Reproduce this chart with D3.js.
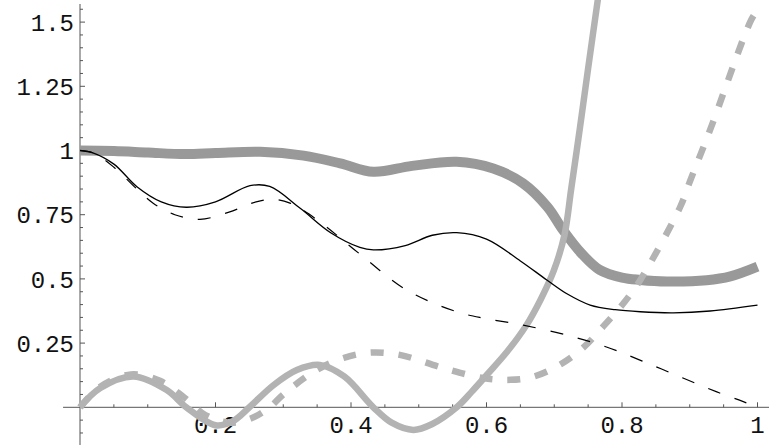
<!DOCTYPE html>
<html>
<head>
<meta charset="utf-8">
<script src="https://cdn.jsdelivr.net/npm/d3@7/dist/d3.min.js"></script>
<style>
  html, body { margin: 0; padding: 0; background: #fff; }
  svg { display: block; }
</style>
</head>
<body>
<svg id="chart" width="769" height="445"></svg>
<script>
// ---- data ----
const xTickLabels = ["0.2", "0.4", "0.6", "0.8", "1"];
const xTickValues = [0.2, 0.4, 0.6, 0.8, 1];
const yTickLabels = ["0.25", "0.5", "0.75", "1", "1.25", "1.5"];
const yTickValues = [0.25, 0.5, 0.75, 1, 1.25, 1.5];

const thickDarkX = [0, 0.05, 0.1, 0.155, 0.2, 0.266, 0.33, 0.384, 0.433, 0.49, 0.556, 0.61, 0.654, 0.69, 0.713, 0.74, 0.767, 0.8, 0.827, 0.866, 0.925, 0.96, 1.0];
const thickDarkY = [1.0, 0.998, 0.992, 0.986, 0.99, 0.995, 0.98, 0.95, 0.917, 0.94, 0.956, 0.93, 0.872, 0.78, 0.69, 0.6, 0.535, 0.505, 0.496, 0.49, 0.495, 0.51, 0.548];

const blackSolidX = [0, 0.019, 0.05, 0.084, 0.12, 0.157, 0.2, 0.251, 0.28, 0.325, 0.37, 0.413, 0.433, 0.48, 0.52, 0.556, 0.6, 0.65, 0.689, 0.72, 0.753, 0.79, 0.827, 0.876, 0.93, 1.0];
const blackSolidY = [1.0, 0.991, 0.947, 0.859, 0.8, 0.779, 0.8, 0.863, 0.86, 0.775, 0.68, 0.623, 0.613, 0.63, 0.67, 0.68, 0.655, 0.57, 0.496, 0.44, 0.398, 0.38, 0.372, 0.368, 0.375, 0.398];

const blackDashX = [0, 0.02, 0.05, 0.084, 0.108, 0.14, 0.177, 0.22, 0.26, 0.285, 0.31, 0.35, 0.413, 0.482, 0.556, 0.6, 0.654, 0.72, 0.777, 0.83, 0.89, 0.94, 0.979, 1.0];
const blackDashY = [1.0, 0.99, 0.935, 0.85, 0.795, 0.75, 0.732, 0.76, 0.8, 0.81, 0.795, 0.73, 0.597, 0.457, 0.372, 0.345, 0.32, 0.28, 0.235, 0.18, 0.114, 0.06, 0.022, 0.0];

const lightSolidX = [0, 0.03, 0.079, 0.128, 0.157, 0.2, 0.225, 0.25, 0.285, 0.32, 0.354, 0.39, 0.433, 0.46, 0.492, 0.52, 0.556, 0.578, 0.6, 0.63, 0.659, 0.68, 0.699, 0.715, 0.725, 0.738, 0.75, 0.765, 0.772];
const lightSolidY = [0, 0.075, 0.12, 0.067, 0.0, -0.07, -0.055, 0.0, 0.085, 0.145, 0.165, 0.12, 0.0, -0.06, -0.088, -0.065, 0.0, 0.06, 0.125, 0.215, 0.32, 0.42, 0.53, 0.67, 0.85, 1.09, 1.32, 1.6, 1.73];

const lightDashX = [0, 0.03, 0.075, 0.118, 0.153, 0.185, 0.22, 0.251, 0.28, 0.3, 0.349, 0.389, 0.428, 0.472, 0.536, 0.595, 0.635, 0.669, 0.708, 0.743, 0.772, 0.804, 0.827, 0.886, 0.9, 0.93, 0.991, 1.0];
const lightDashY = [0, 0.08, 0.128, 0.103, 0.04, -0.03, -0.06, -0.045, 0.0, 0.05, 0.145, 0.192, 0.213, 0.204, 0.153, 0.114, 0.107, 0.119, 0.165, 0.233, 0.314, 0.411, 0.496, 0.781, 0.878, 1.08, 1.51, 1.545];

// ---- scales ----
const svg = d3.select("#chart");
const x = d3.scaleLinear().domain([0, 1]).range([80, 757.5]);
const y = d3.scaleLinear().domain([0, 1]).range([407.3, 150.5]);

const axisColor = "#555";
const fontFam = "'Liberation Mono', 'DejaVu Sans Mono', monospace";

// ---- curves ----
const zip = (xs, ys) => xs.map((v, i) => [v, ys[i]]);
const line = d3.line().x(d => x(d[0])).y(d => y(d[1])).curve(d3.curveCatmullRom.alpha(0.5));

const series = [
  { data: zip(thickDarkX, thickDarkY), stroke: "#999999", width: 10, dash: null },
  { data: zip(lightSolidX, lightSolidY), stroke: "#b3b3b3", width: 6.5, dash: null },
  { data: zip(lightDashX, lightDashY), stroke: "#b3b3b3", width: 6.5, dash: "13,15" },
  { data: zip(blackSolidX, blackSolidY), stroke: "#000", width: 1.3, dash: null },
  { data: zip(blackDashX, blackDashY), stroke: "#000", width: 1.2, dash: "13,15" }
];

// ---- axes ----
const g = svg.append("g");
g.append("line").attr("x1", x(-0.025)).attr("x2", 769).attr("y1", y(0)).attr("y2", y(0))
  .attr("stroke", axisColor).attr("stroke-width", 1);
g.append("line").attr("x1", x(0)).attr("x2", x(0)).attr("y1", 4).attr("y2", 445)
  .attr("stroke", axisColor).attr("stroke-width", 1);

const xMinor = d3.range(1, 21).map(i => i * 0.05);
xMinor.forEach(v => {
  const major = Math.abs(v * 5 - Math.round(v * 5)) < 1e-6;
  g.append("line").attr("x1", x(v)).attr("x2", x(v))
    .attr("y1", y(0)).attr("y2", y(0) - (major ? 5 : 3))
    .attr("stroke", axisColor).attr("stroke-width", 1);
});
const yMinor = d3.range(-2, 32).map(i => i * 0.05).filter(v => Math.abs(v) > 1e-6);
yMinor.forEach(v => {
  const major = Math.abs(v * 4 - Math.round(v * 4)) < 1e-6;
  g.append("line").attr("x1", x(0)).attr("x2", x(0) + (major ? 5 : 3))
    .attr("y1", y(v)).attr("y2", y(v))
    .attr("stroke", axisColor).attr("stroke-width", 1);
});

xTickValues.forEach((v, i) => {
  g.append("text").attr("x", x(v)).attr("y", 433)
    .attr("text-anchor", "middle").attr("font-family", fontFam).attr("font-size", 24)
    .attr("fill", "#111").text(xTickLabels[i]);
});
yTickValues.forEach((v, i) => {
  g.append("text").attr("x", 74).attr("y", y(v)).attr("dy", "0.36em")
    .attr("text-anchor", "end").attr("font-family", fontFam).attr("font-size", 24)
    .attr("fill", "#111").text(yTickLabels[i]);
});

const cg = svg.append("g");
series.forEach(s => {
  const p = cg.append("path").attr("d", line(s.data))
    .attr("fill", "none").attr("stroke", s.stroke).attr("stroke-width", s.width)
    .attr("stroke-linejoin", "round");
  if (s.dash) p.attr("stroke-dasharray", s.dash).attr("stroke-linecap", "butt");
});
</script>
</body>
</html>
